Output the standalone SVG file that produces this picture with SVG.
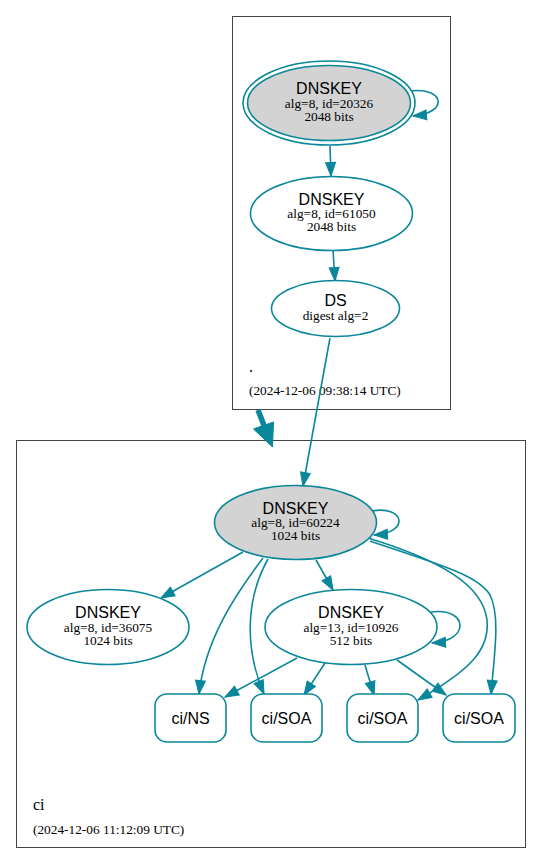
<svg xmlns="http://www.w3.org/2000/svg" width="541" height="865" viewBox="0 0 541 865">
<style>
.cl{fill:none;stroke:#444;stroke-width:1}
.nd{fill:#fff;stroke:#0a879a;stroke-width:1.6}
.ksk{fill:#d3d3d3;stroke:#0a879a;stroke-width:1.6}
.e{fill:none;stroke:#0a879a;stroke-width:1.6;marker-end:url(#ah)}
.t1{font-family:"Liberation Sans",Arial,sans-serif;font-size:16px;text-anchor:middle;fill:#000}
.t2{font-family:"Liberation Serif","Times New Roman",serif;font-size:13.33px;text-anchor:middle;fill:#000}
.lb{font-family:"Liberation Serif","Times New Roman",serif;fill:#000}
</style>
<defs>
<marker id="ah" markerUnits="userSpaceOnUse" markerWidth="16" markerHeight="14" viewBox="-1 -1 16 13" refX="13.5" refY="5.5" orient="auto">
<path d="M0,0.5 L13.5,5.5 L0,10.5 z" fill="#0a879a" stroke="#0a879a" stroke-width="1"/>
</marker>
</defs>
<rect width="541" height="865" fill="#fff"/>
<g id="cluster-root">
<rect class="cl" x="232.5" y="16.5" width="218" height="393"/>
<text class="lb" x="249" y="372" font-size="16">.</text>
<text class="lb" x="249" y="395" font-size="13.33">(2024-12-06 09:38:14 UTC)</text>
</g>
<g id="cluster-ci">
<rect class="cl" x="16.5" y="440.5" width="509" height="407"/>
<text class="lb" x="33" y="810" font-size="16">ci</text>
<text class="lb" x="33" y="834" font-size="13.33">(2024-12-06 11:12:09 UTC)</text>
</g>
<g id="connectors">
<path class="e" d="M410,91 C445,87 449,113 413,116"/>
<path class="e" d="M330,146 L331,176"/>
<path class="e" d="M333,250 L335,281"/>
<path class="e" d="M330,338 L303,486"/>
<path d="M258,410 L265,428" fill="none" stroke="#0a879a" stroke-width="5.5"/>
<polygon points="253.5,429 273.5,422 272.5,447" fill="#0a879a" stroke="#0a879a" stroke-width="1"/>
<path class="e" d="M372,511 C405,505 410,533 374,535"/>
<path class="e" d="M243,552 L161,598"/>
<path class="e" d="M263,558 C235,595 205,640 199,694"/>
<path class="e" d="M268,559 C245,600 245,650 264,694"/>
<path class="e" d="M316,560 L333,590"/>
<path class="e" d="M368,538 C440,560 483,585 487,620 C490,650 470,670 418,700"/>
<path class="e" d="M370,541 C440,565 478,575 490,595 C500,615 495,650 491,694"/>
<path class="e" d="M431,612 C468,607 471,641 432,643"/>
<path class="e" d="M297,658 L225,697"/>
<path class="e" d="M325,663 L304,695"/>
<path class="e" d="M365,665 L374,695"/>
<path class="e" d="M397,660 L446,695"/>
</g>
<g id="dnskey-20326">
<ellipse class="nd" cx="329" cy="103" rx="86" ry="42"/>
<ellipse class="ksk" cx="329" cy="103" rx="81.5" ry="37.5"/>
<text class="t1" x="329" y="94">DNSKEY</text>
<text class="t2" x="329" y="107.5">alg=8, id=20326</text>
<text class="t2" x="329" y="120.5">2048 bits</text>
</g>
<g id="dnskey-61050">
<ellipse class="nd" cx="331.5" cy="213.5" rx="81" ry="37"/>
<text class="t1" x="331.5" y="204.5">DNSKEY</text>
<text class="t2" x="331.5" y="218">alg=8, id=61050</text>
<text class="t2" x="331.5" y="231">2048 bits</text>
</g>
<g id="ds">
<ellipse class="nd" cx="335.5" cy="308.5" rx="64" ry="28"/>
<text class="t1" x="335.5" y="306">DS</text>
<text class="t2" x="335.5" y="320">digest alg=2</text>
</g>
<g id="dnskey-60224">
<ellipse class="ksk" cx="295.5" cy="522.5" rx="81" ry="37"/>
<text class="t1" x="295.5" y="513.5">DNSKEY</text>
<text class="t2" x="295.5" y="527">alg=8, id=60224</text>
<text class="t2" x="295.5" y="540">1024 bits</text>
</g>
<g id="dnskey-36075">
<ellipse class="nd" cx="108" cy="627" rx="81" ry="37.5"/>
<text class="t1" x="108" y="618">DNSKEY</text>
<text class="t2" x="108" y="631.5">alg=8, id=36075</text>
<text class="t2" x="108" y="644.5">1024 bits</text>
</g>
<g id="dnskey-10926">
<ellipse class="nd" cx="351" cy="627" rx="86" ry="37.5"/>
<text class="t1" x="351" y="618">DNSKEY</text>
<text class="t2" x="351" y="631.5">alg=13, id=10926</text>
<text class="t2" x="351" y="644.5">512 bits</text>
</g>
<g id="ci-ns">
<rect class="nd" x="155" y="694" width="71" height="48" rx="12"/>
<text class="t1" x="190.5" y="723.5">ci/NS</text>
</g>
<g id="ci-soa-1">
<rect class="nd" x="251" y="694" width="71" height="48" rx="12"/>
<text class="t1" x="286.5" y="723.5">ci/SOA</text>
</g>
<g id="ci-soa-2">
<rect class="nd" x="347" y="694" width="71" height="48" rx="12"/>
<text class="t1" x="382.5" y="723.5">ci/SOA</text>
</g>
<g id="ci-soa-3">
<rect class="nd" x="443" y="694" width="72" height="48" rx="12"/>
<text class="t1" x="479" y="723.5">ci/SOA</text>
</g>
</svg>
